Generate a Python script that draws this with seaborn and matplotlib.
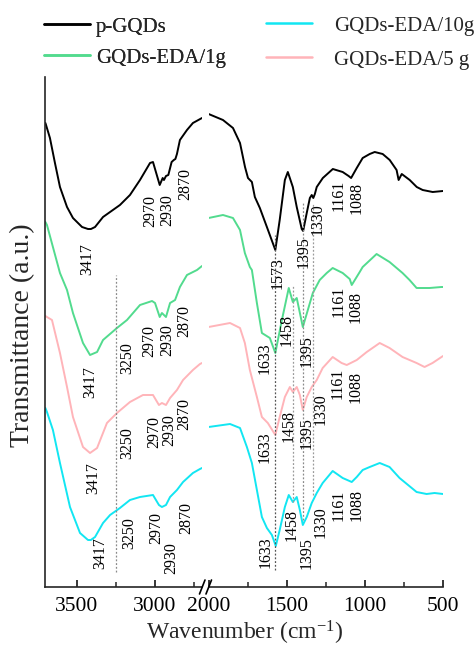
import matplotlib
matplotlib.use("Agg")
import matplotlib.pyplot as plt
from matplotlib.lines import Line2D
import pandas as pd
import seaborn as sns

sns.set_theme(style="ticks")
plt.rcParams["font.family"] = ["Liberation Serif", "DejaVu Serif"]
plt.rcParams["mathtext.fontset"] = "custom"
plt.rcParams["mathtext.rm"] = "Liberation Serif"
plt.rcParams["mathtext.it"] = "Liberation Serif:italic"
plt.rcParams["mathtext.bf"] = "Liberation Serif:bold"

# ---------------- FTIR spectra (stacked, arbitrary transmittance units) ----------------
series_names = ["p-GQDs", "GQDs-EDA/1g", "GQDs-EDA/5 g", "GQDs-EDA/10g"]
series_colors = ["#000000", "#52DB8E", "#FFB4B9", "#12E6F2"]

wn_pgqds = [3700, 3696, 3671, 3639, 3607, 3562, 3524, 3466, 3428, 3409, 3383, 3332, 3287, 3224,
            3160, 3096, 3032, 3013, 2970, 2951, 2943, 2930, 2915, 2894, 2880, 2870, 2860, 2841,
            2796, 2758, 2700,
            2000, 1908, 1844, 1799, 1767, 1748, 1723, 1704, 1672, 1627, 1573, 1545, 1512, 1493,
            1461, 1436, 1404, 1395, 1372, 1352, 1340, 1330, 1320, 1308, 1269, 1205, 1142, 1104,
            1088, 1052, 1014, 969, 937, 886, 841, 797, 784, 764, 713, 668, 630, 566, 500]
t_pgqds = [464, 462, 449, 424, 400, 380, 369, 360, 358, 358, 360, 370, 375, 382,
           392, 407, 424, 425, 402, 409, 407, 411, 412, 425, 427, 428, 433, 447,
           457, 464, 469,
           473, 467, 459, 444, 420, 409, 405, 390, 379, 360, 337, 367, 407, 415,
           400, 380, 358, 356, 374, 389, 392, 389, 393, 400, 409, 418, 415, 411,
           409, 419, 429, 433, 435, 433, 427, 417, 407, 413, 407, 400, 397, 395, 396]

wn_eda1 = [3700, 3690, 3652, 3607, 3562, 3524, 3460, 3415, 3370, 3332, 3243, 3179, 3096, 3019,
           3000, 2970, 2956, 2930, 2904, 2872, 2841, 2796, 2732, 2700,
           2000, 1908, 1844, 1799, 1768, 1736, 1723, 1691, 1659, 1608, 1573, 1531, 1487, 1461,
           1436, 1397, 1365, 1333, 1289, 1244, 1206, 1142, 1097, 1084, 1033, 1014, 925, 842,
           759, 714, 669, 586, 510, 500]
t_eda1 = [365, 362, 340, 314, 297, 274, 244, 232, 235, 247, 259, 267, 282, 286,
          284, 270, 274, 270, 284, 287, 300, 312, 317, 321,
          369, 372, 369, 357, 334, 320, 317, 284, 254, 249, 234, 267, 299, 285,
          289, 260, 277, 294, 307, 314, 319, 314, 308, 302, 315, 320, 333, 325,
          314, 307, 299, 299, 300, 300]

wn_eda5 = [3700, 3690, 3658, 3607, 3562, 3524, 3460, 3415, 3370, 3307, 3243, 3160, 3077, 3013,
           2975, 2956, 2930, 2904, 2860, 2821, 2758, 2713, 2700,
           2000, 1863, 1799, 1768, 1736, 1691, 1659, 1621, 1573, 1545, 1512, 1480, 1461, 1436,
           1416, 1397, 1372, 1340, 1308, 1270, 1206, 1149, 1116, 1052, 988, 905, 842, 759,
           669, 618, 567, 500]
t_eda5 = [271, 270, 267, 234, 200, 170, 140, 134, 139, 164, 174, 185, 192, 192,
          182, 184, 182, 189, 197, 207, 217, 223, 224,
          260, 264, 259, 244, 217, 190, 170, 164, 152, 170, 190, 200, 195, 200,
          192, 177, 190, 200, 207, 219, 230, 224, 222, 227, 235, 244, 239, 230,
          224, 220, 224, 231]

wn_eda10 = [3700, 3690, 3652, 3607, 3543, 3479, 3428, 3410, 3383, 3332, 3287, 3224, 3160, 3096,
            3013, 2975, 2956, 2930, 2904, 2860, 2821, 2758, 2713, 2700,
            2000, 1863, 1799, 1755, 1723, 1691, 1659, 1627, 1595, 1570, 1545, 1512, 1487, 1461,
            1436, 1416, 1397, 1372, 1340, 1308, 1270, 1206, 1142, 1084, 1052, 1014, 969, 905,
            842, 778, 669, 605, 554, 500]
t_eda10 = [179, 175, 157, 124, 80, 54, 47, 47, 50, 64, 72, 79, 87, 90,
           92, 82, 80, 82, 90, 97, 105, 114, 118, 119,
           160, 163, 159, 140, 124, 97, 70, 59, 52, 41, 57, 80, 92, 85,
           90, 77, 62, 70, 84, 94, 104, 116, 109, 105, 110, 117, 120, 124,
           120, 109, 95, 93, 94, 93]

# ---------------- peak assignments: label text and where it is written ----------------
peak_text = {
    "p-GQDs": ["3417", "2970", "2930", "2870", "1573", "1395", "1330", "1161", "1088"],
    "GQDs-EDA/1g": ["3417", "3250", "2970", "2930", "2870", "1633", "1458", "1395", "1161", "1088"],
    "GQDs-EDA/5 g": ["3417", "3250", "2970", "2930", "2870", "1633", "1458", "1395", "1330", "1161", "1088"],
    "GQDs-EDA/10g": ["3417", "3250", "2970", "2930", "2870", "1633", "1458", "1395", "1330", "1161", "1088"],
}
peak_text_x = {
    "p-GQDs": [3431, 3032, 2923, 2808, 1560, 1391, 1304, 1167, 1052],
    "GQDs-EDA/1g": [3415, 3179, 3038, 2923, 2815, 1640, 1499, 1372, 1167, 1058],
    "GQDs-EDA/5 g": [3396, 3179, 3008, 2912, 2815, 1640, 1487, 1372, 1282, 1173, 1058],
    "GQDs-EDA/10g": [3351, 3166, 2994, 2898, 2802, 1632, 1467, 1372, 1282, 1167, 1052],
}
peak_text_y = {
    "p-GQDs": [328, 376, 377, 403, 314, 335, 368, 392, 389],
    "GQDs-EDA/1g": [205, 229, 246, 247, 266, 229, 257, 236, 286, 280],
    "GQDs-EDA/5 g": [109, 144, 155, 157, 173, 140, 161, 154, 178, 204, 200],
    "GQDs-EDA/10g": [34, 54, 59, 29, 69, 35, 62, 34, 65, 82, 82],
}

# dotted guide lines through shared bands
guide_wn = [3250, 1573, 1458, 1395, 1330]
guide_top = [312, 352, 302, 384, 384]
guide_bottom = [15, 17, 85, 67, 92]
guide_color = ["#8a8a8a", "#555555", "#9a9a9a", "#8a8a8a", "#9a9a9a"]

# ---------------- build long table ----------------
frames = []
for name, wn, t in [("p-GQDs", wn_pgqds, t_pgqds), ("GQDs-EDA/1g", wn_eda1, t_eda1),
                    ("GQDs-EDA/5 g", wn_eda5, t_eda5), ("GQDs-EDA/10g", wn_eda10, t_eda10)]:
    frames.append(pd.DataFrame({"wavenumber": wn, "transmittance": t, "sample": name}))
df = pd.concat(frames, ignore_index=True)
palette = dict(zip(series_names, series_colors))

W, H = 476, 646
fig = plt.figure(figsize=(W / 100, H / 100), dpi=100)
bottom = (H - 587) / H
height = 510 / H
ax_hi = fig.add_axes([45.4 / W, bottom, (202 - 45.4) / W, height])
ax_lo = fig.add_axes([208.6 / W, bottom, (443 - 208.6) / W, height])

hi = df[df["wavenumber"] >= 2350]
lo = df[df["wavenumber"] <= 2350]
for ax, part in [(ax_hi, hi), (ax_lo, lo)]:
    sns.lineplot(data=part, x="wavenumber", y="transmittance", hue="sample",
                 hue_order=series_names, palette=palette, estimator=None,
                 linewidth=1.4, legend=False, ax=ax)

ax_hi.set_xlim(3700, 2700)
ax_lo.set_xlim(2000, 500)
for ax in (ax_hi, ax_lo):
    ax.set_ylim(0, 510)
    ax.set_xlabel("")
    ax.set_ylabel("")
    ax.set_yticks([])
    ax.patch.set_alpha(0)
    for s in ("top", "right"):
        ax.spines[s].set_visible(False)
    ax.spines["bottom"].set_linewidth(1.2)
    ax.tick_params(axis="x", which="major", direction="in", length=5, width=1.1,
                   labelsize=15.5, pad=7, colors="black")
    ax.tick_params(axis="x", which="minor", direction="in", length=3.5, width=1.1)
ax_lo.spines["left"].set_visible(False)
ax_hi.spines["left"].set_linewidth(1.2)

ax_hi.set_xticks([3500, 3000])
ax_hi.set_xticks([3250, 2750], minor=True)
ax_lo.set_xticks([2000, 1500, 1000, 500])
ax_lo.set_xticks([1750, 1250, 750], minor=True)

# guide lines
for wn, top, bot, c in zip(guide_wn, guide_top, guide_bottom, guide_color):
    ax = ax_hi if wn > 2350 else ax_lo
    ax.vlines(wn, bot, top, colors=c, linestyles=(0, (1.5, 1.5)), linewidth=0.9)

# peak labels
for name in series_names:
    for txt, x, y in zip(peak_text[name], peak_text_x[name], peak_text_y[name]):
        ax = ax_hi if x > 2350 else ax_lo
        ax.text(x, y, txt, rotation=90, ha="center", va="center", fontsize=11.5,
                color="black")

# axis break marks
for x0 in (199.5, 206.0):
    fig.add_artist(Line2D([x0 / W, (x0 + 5.5) / W], [(H - 594) / H, (H - 580) / H],
                          color="black", linewidth=1.2))

fig.text(245 / W, 1 - 633 / H, "Wavenumber (cm$^{-1}$)", ha="center", va="center",
         fontsize=17)
fig.text(23 / W, 1 - 335 / H, "Transmittance (a.u.)", rotation=90, ha="center",
         va="center", fontsize=20)

# legends
handles = [Line2D([], [], color=c, linewidth=1.8) for c in series_colors]
leg1 = fig.legend([handles[0], handles[1]], [series_names[0], series_names[1]],
                  loc="upper left", bbox_to_anchor=(44 / W, 1 - 17 / H), frameon=False,
                  fontsize=15, handlelength=2.2, handletextpad=0.3, labelspacing=0.55,
                  borderpad=0, borderaxespad=0)
leg2 = fig.legend([handles[3], handles[2]], [series_names[3], series_names[2]],
                  loc="upper left", bbox_to_anchor=(266 / W, 1 - 16 / H), frameon=False,
                  fontsize=15, handlelength=2.2, handletextpad=1.05, labelspacing=0.7,
                  borderpad=0, borderaxespad=0)
fig.add_artist(leg1)

fig.savefig("out.png", dpi=100)
